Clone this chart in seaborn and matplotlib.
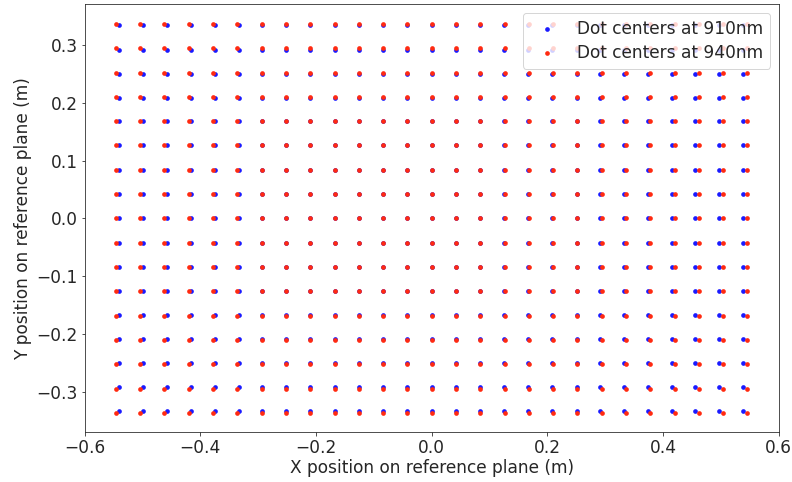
import numpy as np
import pandas as pd
import matplotlib
matplotlib.use("Agg")
import matplotlib.pyplot as plt
import seaborn as sns

# Column (x) and row (y) positions of the dot centres
x_940 = [-0.546, -0.504, -0.462, -0.420, -0.378, -0.336, -0.294, -0.252, -0.210,
         -0.168, -0.126, -0.084, -0.042, 0.000, 0.042, 0.084, 0.126, 0.168,
         0.210, 0.252, 0.294, 0.336, 0.378, 0.420, 0.462, 0.504, 0.546]
y_940 = [0.336, 0.294, 0.252, 0.210, 0.168, 0.126, 0.084, 0.042, 0.000,
         -0.042, -0.084, -0.126, -0.168, -0.210, -0.252, -0.294, -0.336]

x_910 = [-0.540, -0.4995, -0.457, -0.416, -0.3748, -0.3337, -0.2935, -0.2515, -0.210,
         -0.168, -0.126, -0.084, -0.042, 0.000, 0.042, 0.0835, 0.1255, 0.167,
         0.208, 0.2505, 0.291, 0.332, 0.3735, 0.415, 0.456, 0.4968, 0.538]
y_910 = [0.3345, 0.2915, 0.2500, 0.2085, 0.1675, 0.126, 0.084, 0.042, 0.000,
         -0.042, -0.084, -0.126, -0.1675, -0.2085, -0.2495, -0.291, -0.3325]

labels = ["Dot centers at 910nm", "Dot centers at 940nm"]
colors = ["#1a1aff", "#ff2a10"]


def grid(xs, ys):
    gx, gy = np.meshgrid(xs, ys)
    return pd.DataFrame({"x": gx.ravel(), "y": gy.ravel()})


df910 = grid(x_910, y_910)
df940 = grid(x_940, y_940)

sns.set_style("ticks")
plt.rcParams["font.family"] = ["DejaVu Sans"]

fig = plt.figure(figsize=(11, 482 / 72), dpi=72)
ax = fig.add_axes([0.1069, 0.1031, 0.9832 - 0.1069, 0.9907 - 0.1031])

sns.scatterplot(data=df910, x="x", y="y", color=colors[0], s=22, linewidth=0,
                label=labels[0], ax=ax)
sns.scatterplot(data=df940, x="x", y="y", color=colors[1], s=22, linewidth=0,
                label=labels[1], ax=ax)

ax.set_xlim(-0.6, 0.6)
ax.set_ylim(-0.3696, 0.3696)
ax.set_xticks([-0.6, -0.4, -0.2, 0.0, 0.2, 0.4, 0.6])
ax.set_yticks([-0.3, -0.2, -0.1, 0.0, 0.1, 0.2, 0.3])
ax.tick_params(labelsize=17)
ax.set_xlabel("X position on reference plane (m)", fontsize=17, labelpad=2)
ax.set_ylabel("Y position on reference plane (m)", fontsize=17)
ax.legend(loc="upper right", fontsize=17, frameon=True, labelspacing=0.35)

fig.savefig("out.png", dpi=72)
